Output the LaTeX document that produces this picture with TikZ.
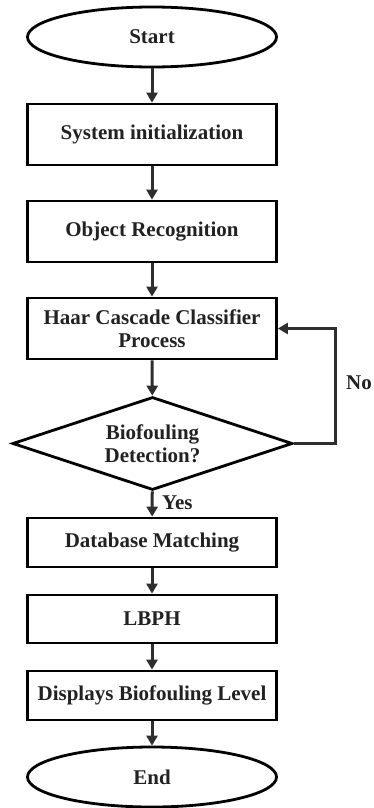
\documentclass[tikz,border=0pt]{standalone}
\usepackage{fontspec}
\setmainfont{Liberation Serif}
\usetikzlibrary{shapes,backgrounds}
\usetikzlibrary{arrows,arrows.meta}
\definecolor{lncol}{HTML}{2E2E2E}
\definecolor{txtcol}{HTML}{222222}

\begin{document}
\begin{tikzpicture}[x=1pt,y=-1pt,
  every node/.style={font=\fontsize{21}{23}\selectfont\bfseries,text=txtcol},
  terminal/.style={ellipse,draw=black,line width=2.8pt,minimum width=249,minimum height=60,inner sep=0pt},
  procbox/.style={rectangle,draw=black,line width=2.8pt,minimum width=249,inner sep=0pt,align=center},
  decide/.style={diamond,draw=black,line width=2.8pt,minimum width=280,minimum height=93,aspect=3,inner sep=0pt,align=center},
  flow/.style={-{Triangle[length=10pt,width=11pt]},draw=lncol,line width=3pt}]
  \useasboundingbox (0,0) rectangle (373,808);

  \node[terminal] (start) at (152,37) {Start};
  \node[procbox,minimum height=61] (init) at (152,134.5) {System initialization};
  \node[procbox,minimum height=61] (recog) at (152,231.5) {Object Recognition};
  \node[procbox,minimum height=61] (haar) at (152,328.5) {Haar Cascade Classifier\\Process};
  \node[decide] (detect) at (152.5,443.5) {Biofouling\\Detection?};
  \node[procbox,minimum height=49] (dbm) at (152,542.5) {Database Matching};
  \node[procbox,minimum height=48] (lbph) at (152,619) {LBPH};
  \node[procbox,minimum height=49] (disp) at (152,695.5) {Displays Biofouling Level};
  \node[terminal] (stop) at (152,777) {End};

  \foreach \a/\b in {start/init,init/recog,recog/haar,haar/detect,detect/dbm,dbm/lbph,lbph/disp,disp/stop}
    \draw[flow] (\a) -- (\b);

  % loop back when nothing found
  \coordinate (turn) at (335,443.5);
  \draw[flow] (detect.east) -- (turn) |- (haar.east);

  \node[anchor=west,inner sep=0pt] (nolbl) at (346,383) {No};
  \node[anchor=west,inner sep=0pt] (yeslbl) at (162,503) {Yes};
\end{tikzpicture}
\end{document}
